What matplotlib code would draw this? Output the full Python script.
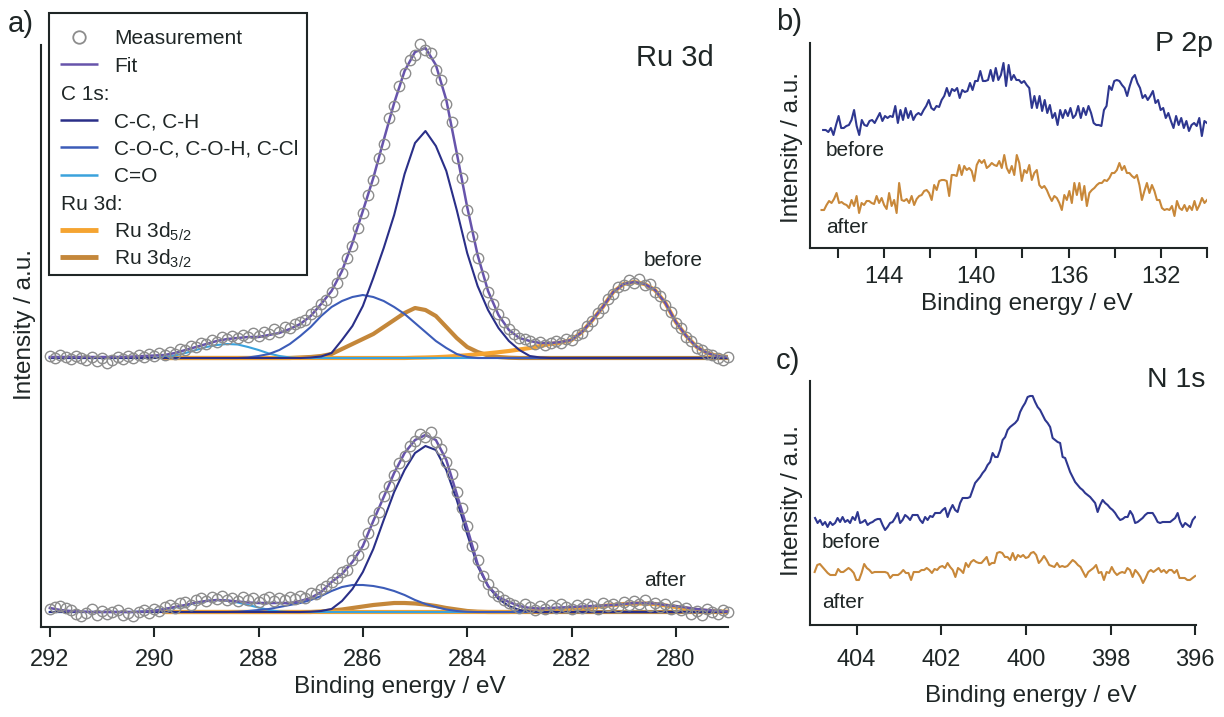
import numpy as np
import matplotlib
matplotlib.use('Agg')
import matplotlib.pyplot as plt
from matplotlib.lines import Line2D
from matplotlib.patches import Rectangle

plt.rcParams['font.family'] = ['Liberation Sans', 'DejaVu Sans']
plt.rcParams['mathtext.fontset'] = 'custom'
plt.rcParams['mathtext.rm'] = 'Liberation Sans'
plt.rcParams['mathtext.default'] = 'regular'

# ---------------- data ----------------
# Ru 3d / C 1s region, values in a.u. above each spectrum's baseline
MEAS_STEP = 0.1   # eV, measurement spacing (starts at 292.0 eV)
FIT_STEP = 0.2    # eV, fit / component spacing (starts at 292.0 eV)
base_before = 269
base_after = 15

meas_before = [2, 0, 3, 1, -1, 2, 0, -2, 1, -3,
               0, -5, -2, 1, -1, 2, 0, 3, 1, 4,
               2, 5, 3, 6, 4, 9, 8, 12, 11, 15,
               14, 18, 16, 21, 19, 22, 20, 23, 21, 25,
               22, 26, 24, 29, 26, 31, 30, 34, 36, 38,
               44, 47, 54, 58, 66, 75, 85, 100, 112, 130,
               145, 163, 178, 200, 214, 240, 252, 272, 285, 298,
               303, 314, 308, 305, 288, 278, 254, 236, 200, 180,
               148, 122, 100, 82, 66, 54, 44, 36, 29, 24,
               20, 19, 17, 14, 16, 13, 15, 17, 15, 19,
               18, 23, 25, 32, 37, 45, 50, 59, 64, 71,
               73, 78, 75, 79, 73, 74, 66, 62, 53, 46,
               35, 30, 21, 17, 10, 8, 4, 3, 0, -2,
               1]
meas_after = [3, 5, 6, 4, 2, -2, -4, -1, 3, -3,
              1, -2, 0, 2, -3, -1, -4, 0, 2, -1,
              3, 1, 5, 7, 4, 9, 10, 7, 12, 14,
              11, 15, 13, 16, 12, 14, 11, 15, 12, 14,
              10, 13, 15, 11, 14, 12, 15, 13, 16, 14,
              19, 18, 23, 26, 30, 34, 40, 42, 52, 57,
              68, 79, 92, 100, 116, 126, 137, 149, 156, 166,
              171, 178, 175, 180, 170, 163, 150, 138, 120, 104,
              86, 66, 52, 36, 28, 20, 16, 12, 9, 7,
              4, 8, 5, 2, 6, 3, 7, 4, 8, 5,
              3, 7, 4, 8, 6, 3, 9, 6, 8, 5,
              10, 7, 11, 8, 12, 6, 9, 5, 8, 3,
              6, 2, 4, -2, 1, -3, 3, 0, -2, 2,
              0]

fit_before = [1, 1, 1, 1, 1, 1, 1, 1, 1.5, 2, 2.5, 3, 5, 8, 11, 14,
              17, 19, 20, 21, 21, 23, 25, 29, 34, 42, 54, 67, 87, 115, 147, 180,
              218, 255, 287, 306, 310, 293, 258, 205, 151, 103, 67, 43, 28, 20, 17, 15,
              15, 16, 18, 26, 38, 51, 66, 74, 76, 74, 68, 55, 36, 22, 11, 5, 2, 1]
fit_after = [4, 2, 1, 0.5, 0, 0, 0, 0, 0, 0.5, 1, 3, 5, 7, 9.5, 11,
             12, 11.5, 10.5, 9.5, 9, 9, 9, 9, 11, 14, 20, 30, 38, 50, 66, 91,
             115, 139, 159, 172, 177, 172, 152, 118, 84, 48, 26, 15, 10, 6, 4, 3.5,
             4, 4.5, 5, 5.5, 6, 6.5, 7, 8, 9, 9, 8.5, 7, 6, 4.5, 3, 2, 1, 0.5]

# fit components: (first energy, values every 0.2 eV)
cc_before_start, cc_before = 287.0, [0.5, 1.5, 5, 18, 32, 52, 80, 110, 143, 184, 215, 227,
                                     212, 187, 148, 105, 72, 48, 30, 17, 8, 2, 0.5]
coc_before_start, coc_before = 288.2, [0.5, 2, 4, 8, 14, 22, 31, 42, 51, 57, 61, 63,
                                       61, 57, 51, 44, 35, 26, 17, 10, 4, 1, 0]
co_before_start, co_before = 290.0, [0.3, 1, 2.5, 5, 8, 11, 13, 14, 13.5, 11, 8, 4.5, 2, 0.5, 0]
ru32_before_start, ru32_before = 287.2, [0.5, 1, 2, 4, 9, 14, 19, 24, 31, 38, 45, 50,
                                         48, 42, 31, 20, 11, 6, 2.5, 1, 0.3]
ru52_before_start, ru52_before = 285.2, [0, 0.3, 0.5, 0.8, 1.3, 2, 2.8, 3.7, 4.7, 5.8, 7, 8.5,
                                         10, 12, 14, 15.5, 18, 26, 38, 51, 66, 74, 76, 74,
                                         68, 55, 36, 22, 11, 5, 2, 1]

cc_after_start, cc_after = 287.0, [0.3, 1, 3, 11, 23, 40, 63, 92, 120, 142, 159, 166,
                                   162, 142, 112, 78, 46, 26, 13, 6, 2, 0.5]
coc_after_start, coc_after = 288.4, [0.3, 1, 2, 3, 5, 7, 9, 12, 16, 21, 25, 27,
                                     27, 26, 24, 21, 17, 12, 8, 5, 2.5, 1, 0.3]
co_after_start, co_after = 290.2, [0.5, 1.5, 3, 4.5, 6.5, 9, 11, 12, 11.5, 9.5, 7, 4.5, 2, 0.5]
ru32_after_start, ru32_after = 286.8, [0.5, 1.5, 2.5, 4, 5.5, 7, 8, 9, 9, 8.5, 7.5, 6, 4, 2.5, 1, 0.3]
ru52_after_start, ru52_after = 283.0, [0.5, 0.7, 1, 1.5, 2, 2.5, 3.5, 4.5, 6, 7, 8, 8.5,
                                       8.5, 8, 6.5, 5, 3.5, 2, 1, 0.5, 0.3]

# P 2p
p2p_before_range = (146.63, 130.0)
p2p_before = [118, 118, 116, 120, 113, 123, 132, 120, 120, 122, 123, 128, 138, 122, 113, 128, 123, 122,
              127, 128, 125, 130, 135, 127, 132, 130, 132, 131, 142, 125, 138, 128, 140, 130, 137, 128,
              133, 135, 133, 138, 142, 148, 140, 138, 142, 141, 148, 152, 160, 152, 159, 157, 160, 150,
              158, 156, 157, 165, 158, 167, 167, 177, 167, 167, 168, 178, 167, 180, 168, 173, 185, 162,
              183, 168, 173, 168, 168, 165, 167, 163, 160, 140, 152, 140, 152, 137, 148, 135, 143, 130,
              135, 123, 138, 130, 138, 132, 140, 130, 133, 142, 130, 140, 133, 142, 135, 125, 123, 123,
              122, 138, 142, 162, 158, 167, 168, 167, 163, 160, 152, 162, 170, 173, 165, 160, 150, 153,
              148, 152, 157, 145, 148, 138, 140, 130, 135, 127, 120, 132, 123, 130, 120, 127, 117, 123,
              125, 122, 130, 112, 127, 125]
p2p_after_range = (146.7, 130.0)
p2p_after = [38, 38, 43, 47, 45, 49, 55, 45, 46, 44, 43, 40, 48, 42, 52, 35, 45, 43, 47, 47, 45, 44,
             52, 45, 50, 43, 39, 55, 42, 48, 35, 65, 48, 47, 49, 45, 52, 43, 49, 52, 53, 57, 58, 55,
             48, 63, 58, 67, 68, 68, 67, 52, 73, 73, 72, 83, 73, 82, 78, 80, 77, 67, 83, 88, 85, 88,
             80, 82, 85, 83, 82, 87, 80, 93, 80, 75, 82, 73, 93, 85, 67, 78, 75, 83, 68, 75, 78, 63,
             60, 62, 58, 52, 47, 52, 50, 45, 38, 53, 48, 57, 45, 65, 53, 65, 48, 62, 42, 55, 58, 60,
             63, 65, 65, 68, 67, 70, 75, 75, 78, 85, 78, 82, 75, 75, 72, 70, 73, 63, 48, 57, 65, 55,
             63, 57, 48, 48, 40, 38, 39, 38, 42, 32, 47, 40, 38, 43, 37, 42, 38, 47, 38, 43, 50, 45, 48]

# N 1s
n1s_before_range = (404.98, 396.0)
n1s_before = [107, 102, 105, 100, 103, 98, 103, 100, 102, 107, 103, 108, 103, 105, 102, 108, 105, 113,
              102, 103, 105, 100, 102, 103, 105, 106, 106, 100, 95, 98, 102, 103, 107, 112, 102, 105,
              110, 108, 105, 110, 110, 110, 105, 102, 108, 105, 109, 108, 112, 112, 112, 115, 117, 108,
              115, 120, 115, 113, 122, 127, 127, 127, 128, 135, 142, 145, 148, 152, 155, 160, 163, 172,
              168, 168, 175, 185, 188, 195, 198, 200, 202, 205, 213, 218, 222, 228, 229, 229, 223, 218,
              215, 210, 205, 202, 198, 187, 185, 183, 182, 168, 167, 160, 153, 148, 143, 140, 137, 135,
              132, 130, 128, 125, 122, 113, 120, 125, 122, 120, 117, 115, 112, 108, 105, 106, 108, 108,
              114, 110, 102, 103, 105, 107, 110, 112, 112, 112, 108, 103, 102, 103, 103, 103, 103, 105,
              107, 112, 103, 98, 102, 100, 98, 105, 108]
n1s_after_range = (404.99, 396.0)
n1s_after = [53, 60, 61, 58, 55, 52, 50, 50, 50, 56, 53, 53, 55, 57, 55, 52, 45, 45, 52, 61, 57, 55,
             52, 53, 53, 53, 53, 53, 52, 47, 50, 50, 50, 52, 55, 52, 52, 45, 53, 53, 53, 55, 55, 57,
             55, 52, 56, 55, 58, 59, 57, 62, 58, 55, 48, 57, 55, 52, 62, 58, 63, 65, 63, 62, 62, 65,
             68, 60, 62, 62, 72, 73, 72, 68, 68, 65, 72, 65, 70, 68, 70, 67, 68, 72, 73, 70, 62, 65,
             69, 65, 60, 59, 58, 62, 58, 59, 58, 59, 62, 65, 63, 60, 58, 53, 48, 53, 55, 57, 60, 52,
             53, 45, 53, 52, 58, 53, 50, 52, 53, 52, 57, 55, 48, 55, 52, 48, 42, 47, 53, 55, 53, 55,
             57, 53, 55, 52, 55, 55, 52, 55, 47, 47, 47, 45, 45, 47, 49]

# ---------------- style ----------------
INK = '#1f2626'
C_MEAS = '#8c8c8c'
C_FIT = '#6754ab'
C_CC = '#2a2f88'
C_COC = '#3c5cb8'
C_CO = '#3ba2dc'
C_RU52 = '#f5a431'
C_RU32 = '#c4873a'
C_BEFORE = '#2e3790'
C_AFTER = '#c8883a'

W, H = 1224, 717
fig = plt.figure(figsize=(W / 100, H / 100), dpi=100)


def fx(px):
    return px / W


def fy(py):
    return 1 - py / H


def add_axes(left, top, right, bottom):
    return fig.add_axes([fx(left), fy(bottom), (right - left) / W, (bottom - top) / H])


def style(ax, pad):
    for s in ['top', 'right']:
        ax.spines[s].set_visible(False)
    for s in ['left', 'bottom']:
        ax.spines[s].set_linewidth(1.5)
        ax.spines[s].set_color(INK)
    ax.set_yticks([])
    ax.tick_params(axis='x', direction='out', length=7, width=1.5, color=INK,
                   labelsize=17, labelcolor=INK, pad=pad)


def ftext(x, y, s, size, ha='left', va='center', **kw):
    fig.text(fx(x), fy(y), s, fontsize=size, ha=ha, va=va, color=INK, **kw)


ax_a = add_axes(41, 45, 728, 627)
ax_b = add_axes(810, 43, 1207, 248)
ax_c = add_axes(810, 381, 1196, 625)
style(ax_a, 9)
style(ax_b, 6)
style(ax_c, 10)

# ---------------- a) Ru 3d ----------------
grid = 292.0 - FIT_STEP * np.arange(len(fit_before))
meas_e = 292.0 - MEAS_STEP * np.arange(len(meas_before))
ru_mask = grid <= 289.8 + 1e-6


def on_grid(start, vals):
    out = np.zeros(len(grid))
    i0 = int(round((292.0 - start) / FIT_STEP))
    out[i0:i0 + len(vals)] = vals
    return out


spectra = [
    (base_before, meas_before, fit_before,
     (cc_before_start, cc_before), (coc_before_start, coc_before), (co_before_start, co_before),
     (ru32_before_start, ru32_before), (ru52_before_start, ru52_before)),
    (base_after, meas_after, fit_after,
     (cc_after_start, cc_after), (coc_after_start, coc_after), (co_after_start, co_after),
     (ru32_after_start, ru32_after), (ru52_after_start, ru52_after)),
]
for base, meas, fit, cc, coc, co, ru32, ru52 in spectra:
    ax_a.plot(grid[ru_mask], base + on_grid(*ru32)[ru_mask], color=C_RU32, lw=3, zorder=2)
    ax_a.plot(grid[ru_mask], base + on_grid(*ru52)[ru_mask], color=C_RU52, lw=3, zorder=2)
    ax_a.plot(grid, base + on_grid(*co), color=C_CO, lw=1.5, zorder=3)
    ax_a.plot(grid, base + on_grid(*coc), color=C_COC, lw=1.5, zorder=3)
    ax_a.plot(grid, base + on_grid(*cc), color=C_CC, lw=1.5, zorder=3)
    ax_a.plot(grid, base + np.array(fit), color=C_FIT, lw=1.8, zorder=4)
    ax_a.plot(meas_e, base + np.array(meas), 'o', ms=7.5, mfc='none', mec=C_MEAS,
              mew=1.0, clip_on=False, zorder=5)

ax_a.set_xlim(292.17, 279.0)
ax_a.set_ylim(0, 582)
ax_a.set_xticks(np.arange(292, 279, -2))
ax_a.set_xlabel('Binding energy / eV', fontsize=17.5, color=INK)
ax_a.xaxis.set_label_coords(0.523, -0.084)
ax_a.set_ylabel('Intensity / a.u.', fontsize=17.5, color=INK)
ax_a.yaxis.set_label_coords(-0.007, 0.52)

# ---------------- b) P 2p ----------------
ax_b.plot(np.linspace(*p2p_before_range, len(p2p_before)), p2p_before, color=C_BEFORE, lw=1.5)
ax_b.plot(np.linspace(*p2p_after_range, len(p2p_after)), p2p_after, color=C_AFTER, lw=1.5)
ax_b.set_xlim(147.2, 130.0)
ax_b.set_ylim(0, 205)
b_ticks = np.arange(146, 129, -2)
ax_b.set_xticks(b_ticks)
ax_b.set_xticklabels(['' if t % 4 else str(t) for t in b_ticks])
ax_b.set_xlabel('Binding energy / eV', fontsize=17.5, color=INK)
ax_b.xaxis.set_label_coords(0.547, -0.22)
ax_b.set_ylabel('Intensity / a.u.', fontsize=17.5, color=INK)
ax_b.yaxis.set_label_coords(-0.018, 0.49)

# ---------------- c) N 1s ----------------
ax_c.plot(np.linspace(*n1s_before_range, len(n1s_before)), n1s_before, color=C_BEFORE, lw=1.5)
ax_c.plot(np.linspace(*n1s_after_range, len(n1s_after)), n1s_after, color=C_AFTER, lw=1.5)
ax_c.set_xlim(405.1, 395.98)
ax_c.set_ylim(0, 244)
ax_c.set_xticks(np.arange(404, 395, -2))
ax_c.set_xlabel('Binding energy / eV', fontsize=17.5, color=INK)
ax_c.xaxis.set_label_coords(0.573, -0.245)
ax_c.set_ylabel('Intensity / a.u.', fontsize=17.5, color=INK)
ax_c.yaxis.set_label_coords(-0.018, 0.51)

# ---------------- annotations ----------------
ftext(8, 24, 'a)', 21)
ftext(776, 22, 'b)', 21)
ftext(776, 361, 'c)', 21)
ftext(636, 58, 'Ru 3d', 21)
ftext(1213, 44, 'P 2p', 20.5, ha='right')
ftext(1205, 380, 'N 1s', 20.5, ha='right')
ftext(673, 260, 'before', 15, ha='center')
ftext(665, 580, 'after', 15, ha='center')
ftext(826, 150, 'before', 15)
ftext(826, 228, 'after', 15)
ftext(822, 542, 'before', 15)
ftext(822, 602, 'after', 15)

# ---------------- legend (drawn by hand) ----------------
fig.add_artist(Rectangle((fx(49), fy(275)), (307 - 49) / W, (275 - 13) / H,
                         transform=fig.transFigure, facecolor='white', edgecolor=INK,
                         lw=1.5, zorder=10))
rows = [37, 64, 92, 120, 147, 175, 202, 230, 257]


def leg_line(y, color, lw):
    fig.add_artist(Line2D([fx(60), fx(98)], [fy(y), fy(y)], transform=fig.transFigure,
                          color=color, lw=lw, solid_capstyle='butt', zorder=11))


def leg_text(x, y, s):
    fig.text(fx(x), fy(y + 7.5), s, fontsize=15, ha='left', va='baseline', color=INK, zorder=11)


fig.add_artist(Line2D([fx(79)], [fy(rows[0])], transform=fig.transFigure, marker='o', ms=9,
                      mfc='none', mec=C_MEAS, mew=1.3, ls='none', zorder=11))
leg_text(114, rows[0], 'Measurement')
leg_line(rows[1], C_FIT, 1.8)
leg_text(114, rows[1], 'Fit')
leg_text(61, rows[2], 'C 1s:')
leg_line(rows[3], C_CC, 1.8)
leg_text(114, rows[3], 'C-C, C-H')
leg_line(rows[4], C_COC, 1.8)
leg_text(114, rows[4], 'C-O-C, C-O-H, C-Cl')
leg_line(rows[5], C_CO, 1.8)
leg_text(114, rows[5], 'C=O')
leg_text(61, rows[6], 'Ru 3d:')
leg_line(rows[7], C_RU52, 3.5)
leg_text(114, rows[7], 'Ru 3d$_{5/2}$')
leg_line(rows[8], C_RU32, 3.5)
leg_text(114, rows[8], 'Ru 3d$_{3/2}$')

fig.savefig('out.png', dpi=100)
